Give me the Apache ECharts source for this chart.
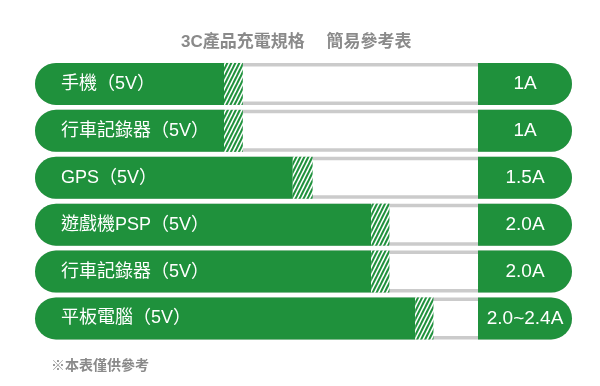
<!DOCTYPE html>
<html><head><meta charset="utf-8">
<script src="https://cdn.jsdelivr.net/npm/echarts@6/dist/echarts.min.js"></script>
<style>html,body{margin:0;padding:0;background:#fff}#c{width:600px;height:386px}</style>
</head><body><div id="c"></div>
<script>
// ---- data ----
const titleText = '3C產品充電規格　 簡易參考表';
const noteText = '※本表僅供參考';
const categories = ['手機（5V）', '行車記錄器（5V）', 'GPS（5V）', '遊戲機PSP（5V）', '行車記錄器（5V）', '平板電腦（5V）'];
const currentLabels = ['1A', '1A', '1.5A', '2.0A', '2.0A', '2.0~2.4A'];
const solidLevel = [35.2, 35.2, 48.0, 62.6, 62.6, 70.8];   // % of row, solid green
const hatchLevel = [3.5, 3.5, 3.7, 3.4, 3.4, 3.4];        // % of row, hatched part
const panelStart = 82.5;   // % of row where the value panel begins
const rowFull = 100;

// ---- styles ----
const GREEN = '#1f913c';
const BORDER = '#cbcbcb';

function makeHatch() {
  const w = 4, h = 8;
  const c = document.createElement('canvas');
  c.width = w; c.height = h;
  const ctx = c.getContext('2d');
  ctx.fillStyle = GREEN; ctx.fillRect(0, 0, w, h);
  ctx.fillStyle = '#ffffff';
  const sw = 1.7;
  for (const k of [-8, 0, 8, 16]) {
    ctx.beginPath();
    ctx.moveTo(k / 2, 0);
    ctx.lineTo((k + 2 * sw) / 2, 0);
    ctx.lineTo((k + 2 * sw - h) / 2, h);
    ctx.lineTo((k - h) / 2, h);
    ctx.closePath();
    ctx.fill();
  }
  return c;
}

const chart = echarts.init(document.getElementById('c'), null, { renderer: 'canvas' });
const BW = 42;
chart.setOption({
  animation: false,
  backgroundColor: '#fff',
  title: [
    { text: titleText, left: 176, top: 29,
      textStyle: { color: '#8a8a8a', fontSize: 17, fontWeight: 'bold', fontFamily: 'Liberation Sans, Noto Sans CJK TC' } },
    { text: noteText, left: 46, top: 353,
      textStyle: { color: '#8a8a8a', fontSize: 14, fontWeight: 'bold', fontFamily: 'Noto Sans CJK TC' } }
  ],
  grid: { left: 35, right: 28, top: 60.5, height: 281.4 },
  xAxis: { type: 'value', min: 0, max: rowFull, show: false },
  yAxis: { type: 'category', data: categories, inverse: true, show: false },
  series: [
    { name: 'bg', type: 'bar', barWidth: BW, barGap: '-100%',
      data: categories.map(() => rowFull),
      itemStyle: { color: '#fff', borderColor: BORDER, borderWidth: 3.5, borderRadius: BW / 2 },
      silent: true },
    { name: 'spacer', type: 'bar', stack: 'r', barWidth: BW, barGap: '-100%',
      data: categories.map(() => panelStart),
      itemStyle: { color: 'rgba(0,0,0,0)' }, silent: true },
    { name: 'current', type: 'bar', stack: 'r', barWidth: BW, barGap: '-100%',
      data: categories.map(() => rowFull - panelStart),
      itemStyle: { color: GREEN, borderRadius: [0, BW / 2, BW / 2, 0] },
      label: { show: true, position: 'inside', color: '#fff', fontSize: 19,
        fontFamily: 'Liberation Sans', formatter: p => currentLabels[p.dataIndex] } },
    { name: 'solid', type: 'bar', stack: 'l', barWidth: BW, barGap: '-100%',
      data: solidLevel,
      itemStyle: { color: GREEN, borderRadius: [BW / 2, 0, 0, BW / 2] },
      label: { show: true, position: 'insideLeft', distance: 26, color: '#fff', fontSize: 18,
        fontFamily: 'Liberation Sans, Noto Sans CJK TC', formatter: p => categories[p.dataIndex] } },
    { name: 'hatch', type: 'bar', stack: 'l', barWidth: BW, barGap: '-100%',
      data: hatchLevel,
      itemStyle: { color: { image: makeHatch(), repeat: 'repeat' } } }
  ]
});
</script>
</body></html>
